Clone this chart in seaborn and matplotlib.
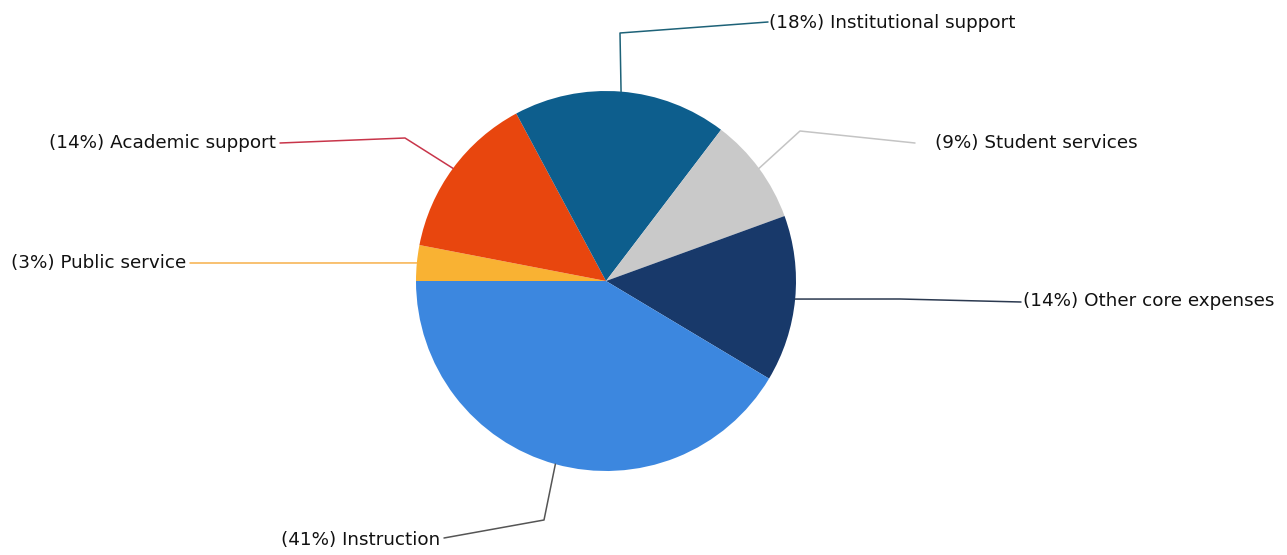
import seaborn as sns
import matplotlib.pyplot as plt
import numpy as np

# expense categories, clockwise from the left edge of the pie
categories = ["Public service", "Academic support", "Institutional support",
              "Student services", "Other core expenses", "Instruction"]
shares = [3, 14, 18, 9, 14, 41]
slice_colors = ["#F9B233", "#E8460E", "#0D5E8D", "#C9C9C9", "#18396A", "#3C87DF"]
line_colors = ["#F7B04A", "#C8354A", "#1D6278", "#C4C4C4", "#2B3950", "#555555"]

sns.set_style("white")
plt.rcParams['font.family'] = ['DejaVu Sans']

fig = plt.figure(figsize=(12.87, 5.55), dpi=100)
ax = fig.add_axes([0, 0, 1, 1])

cx, cy, r = 606, 274, 190
pal = sns.color_palette(slice_colors)
wedges, _ = ax.pie(shares, colors=pal, startangle=180, counterclock=False,
                   radius=r, center=(cx, cy), frame=True,
                   wedgeprops={"linewidth": 0})
ax.set_xlim(0, 1287)
ax.set_ylim(0, 555)
ax.axis('off')

# label layout: (elbow point, end point, text x, text y, alignment)
layout = {
    "Public service": ((300, 292), (190, 292), 186, 292, "right"),
    "Academic support": ((405, 417), (280, 412), 276, 412, "right"),
    "Institutional support": ((620, 522), (768, 533), 769, 532, "left"),
    "Student services": ((800, 424), (915, 412), 935, 412, "left"),
    "Other core expenses": ((900, 256), (1021, 253), 1023, 254, "left"),
    "Instruction": ((544, 35), (444, 17), 440, 15, "right"),
}

for w, name, pct, lc in zip(wedges, categories, shares, line_colors):
    mid = np.deg2rad((w.theta1 + w.theta2) / 2)
    ax_x = cx + r * np.cos(mid)
    ax_y = cy + r * np.sin(mid)
    (ex, ey), (tx, ty), lx, ly, ha = layout[name]
    ax.plot([ax_x, ex, tx], [ax_y, ey, ty], color=lc, linewidth=1.1)
    ax.text(lx, ly, f"({pct}%) {name}", ha=ha, va="center",
            fontsize=13.2, color="#111111")

fig.savefig("out.png", dpi=100, facecolor="white")
